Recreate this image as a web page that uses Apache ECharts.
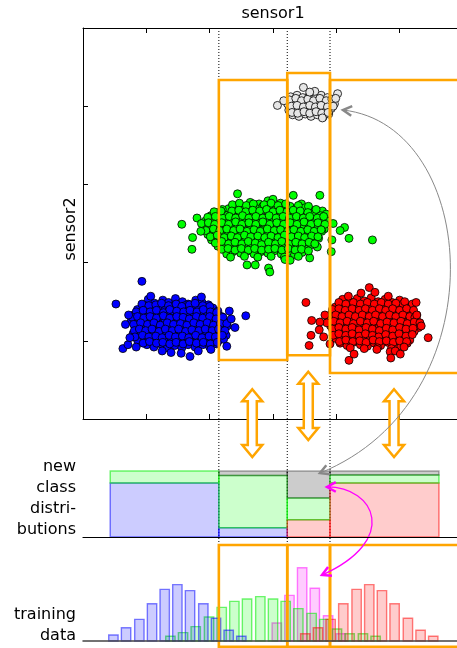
<!DOCTYPE html>
<html>
<head>
<meta charset="utf-8">
<script src="https://cdn.jsdelivr.net/npm/echarts@6/dist/echarts.min.js"></script>
<style>
  html, body { margin: 0; padding: 0; background: #fff; }
  #chart { width: 457px; height: 648px; }
</style>
</head>
<body>
<div id="chart"></div>
<script>
// ---- measurements: sensor1 (x) vs sensor2 (y) for each class ----
const classBlue = [
  [1.03,1.53],[1.13,1.48],[1.26,1.52],[1.35,1.49],[1.46,1.54],[1.57,1.50],[1.66,1.47],[1.78,1.52],[1.88,1.49],[1.98,1.46],
  [0.86,1.40],[0.98,1.45],[1.07,1.41],[1.20,1.43],[1.29,1.39],[1.40,1.44],[1.51,1.40],[1.61,1.45],[1.72,1.41],[1.83,1.43],[1.93,1.39],[2.05,1.42],[2.13,1.38],
  [0.80,1.33],[0.90,1.36],[1.02,1.32],[1.11,1.35],[1.24,1.31],[1.34,1.36],[1.43,1.33],[1.56,1.35],[1.64,1.31],[1.76,1.34],[1.86,1.37],[1.96,1.32],[2.09,1.34],[2.19,1.31],
  [0.76,1.25],[0.88,1.28],[0.97,1.24],[1.09,1.27],[1.18,1.23],[1.30,1.26],[1.39,1.29],[1.50,1.24],[1.61,1.27],[1.70,1.23],[1.82,1.28],[1.91,1.25],[2.03,1.22],[2.12,1.27],[2.24,1.24],
  [0.83,1.17],[0.93,1.20],[1.04,1.16],[1.15,1.19],[1.25,1.15],[1.36,1.20],[1.46,1.17],[1.57,1.14],[1.67,1.19],[1.78,1.16],[1.87,1.20],[1.99,1.15],[2.09,1.18],[2.20,1.15],[2.28,1.19],
  [0.79,1.09],[0.91,1.12],[1.00,1.07],[1.12,1.10],[1.21,1.13],[1.32,1.08],[1.42,1.11],[1.53,1.07],[1.63,1.12],[1.74,1.09],[1.85,1.06],[1.95,1.11],[2.06,1.08],[2.16,1.12],[2.26,1.07],
  [0.86,1.01],[0.97,1.04],[1.07,0.99],[1.18,1.03],[1.28,1.00],[1.39,1.04],[1.49,0.99],[1.60,1.02],[1.71,0.98],[1.81,1.03],[1.92,1.00],[2.02,1.04],[2.13,0.99],[2.22,1.02],
  [1.01,0.95],[1.12,0.92],[1.23,0.96],[1.33,0.91],[1.45,0.94],[1.56,0.91],[1.66,0.95],[1.77,0.92],[1.89,0.95],[2.00,0.92],[2.11,0.96],
  [0.93,1.47],[1.04,1.45],[1.15,1.46],[1.24,1.48],[1.35,1.45],[1.47,1.47],[1.56,1.44],[1.68,1.46],[1.77,1.48],[1.89,1.45],[2.00,1.44],
  [0.84,1.37],[0.95,1.39],[1.06,1.37],[1.16,1.39],[1.27,1.36],[1.37,1.40],[1.48,1.38],[1.59,1.37],[1.69,1.39],[1.80,1.37],[1.90,1.40],[2.01,1.37],[2.11,1.36],
  [0.78,1.30],[0.86,1.31],[0.96,1.29],[1.06,1.31],[1.16,1.29],[1.27,1.32],[1.37,1.29],[1.48,1.31],[1.58,1.30],[1.68,1.28],[1.79,1.31],[1.89,1.29],[2.00,1.31],[2.10,1.28],[2.21,1.30],
  [0.80,1.21],[0.91,1.23],[1.02,1.21],[1.12,1.23],[1.22,1.20],[1.33,1.23],[1.43,1.21],[1.54,1.22],[1.64,1.20],[1.75,1.23],[1.85,1.21],[1.96,1.23],[2.06,1.20],[2.17,1.22],[2.27,1.22],
  [0.81,1.13],[0.89,1.15],[0.99,1.13],[1.09,1.15],[1.20,1.12],[1.30,1.15],[1.41,1.13],[1.51,1.15],[1.62,1.12],[1.72,1.14],[1.83,1.13],[1.93,1.15],[2.04,1.13],[2.14,1.15],[2.24,1.13],
  [0.82,1.05],[0.94,1.07],[1.04,1.05],[1.15,1.06],[1.25,1.04],[1.36,1.07],[1.46,1.05],[1.57,1.06],[1.67,1.04],[1.78,1.07],[1.88,1.04],[1.99,1.06],[2.09,1.05],[2.20,1.07],
  [0.95,0.97],[1.05,0.99],[1.16,0.97],[1.26,0.98],[1.37,0.96],[1.47,0.98],[1.58,0.96],[1.68,0.99],[1.79,0.97],[1.90,0.98],[2.01,0.96],[2.12,0.98],
  [0.93,1.76],[0.52,1.47],[2.57,1.32],[2.40,1.17],[0.63,0.90],[0.71,0.95],[0.67,1.21],[0.74,1.04],[1.39,0.85],[1.55,0.84],
  [1.69,0.80],[1.82,0.87],[2.02,0.89],[2.27,0.93],[2.34,1.28],[1.07,1.57],[1.87,1.56],[0.84,0.92],[1.25,0.87],[2.31,1.38],[0.72,1.33]
];
const classGreen = [
  [2.44,2.88],[2.64,2.77],[2.78,2.75],[2.92,2.79],[3.00,2.81],[3.12,2.76],[3.32,2.86],[3.45,2.75],[3.74,2.86],
  [2.30,2.69],[2.41,2.72],[2.52,2.68],[2.62,2.71],[2.74,2.69],[2.84,2.72],[2.95,2.67],[3.05,2.71],[3.16,2.68],[3.27,2.72],[3.37,2.69],[3.50,2.70],[3.62,2.66],[3.78,2.66],
  [2.02,2.60],[2.15,2.64],[2.24,2.61],[2.36,2.63],[2.45,2.59],[2.57,2.64],[2.67,2.60],[2.78,2.62],[2.88,2.58],[2.99,2.63],[3.10,2.60],[3.20,2.64],[3.31,2.61],[3.42,2.63],[3.53,2.59],[3.64,2.63],[3.75,2.60],[3.84,2.62],
  [1.80,2.57],[1.93,2.53],[2.05,2.56],[2.14,2.52],[2.26,2.55],[2.37,2.51],[2.47,2.56],[2.58,2.53],[2.69,2.55],[2.80,2.51],[2.90,2.56],[3.01,2.53],[3.12,2.55],[3.22,2.51],[3.34,2.56],[3.44,2.52],[3.55,2.55],[3.66,2.52],[3.77,2.56],[3.86,2.53],
  [1.91,2.46],[2.01,2.43],[2.12,2.47],[2.22,2.44],[2.33,2.48],[2.43,2.45],[2.54,2.42],[2.65,2.47],[2.75,2.44],[2.86,2.48],[2.96,2.43],[3.07,2.46],[3.18,2.44],[3.28,2.48],[3.39,2.43],[3.49,2.46],[3.60,2.44],[3.70,2.48],[3.81,2.43],
  [1.97,2.36],[2.07,2.39],[2.18,2.35],[2.29,2.40],[2.39,2.36],[2.50,2.39],[2.60,2.35],[2.71,2.38],[2.82,2.41],[2.92,2.36],[3.03,2.39],[3.13,2.35],[3.24,2.40],[3.35,2.36],[3.45,2.39],[3.56,2.35],[3.66,2.38],[3.77,2.40],
  [2.03,2.29],[2.14,2.32],[2.25,2.28],[2.35,2.31],[2.46,2.27],[2.56,2.32],[2.67,2.29],[2.77,2.26],[2.88,2.31],[2.99,2.28],[3.09,2.32],[3.20,2.27],[3.30,2.30],[3.41,2.27],[3.52,2.31],[3.62,2.28],[3.72,2.31],
  [2.13,2.21],[2.24,2.24],[2.34,2.20],[2.45,2.23],[2.55,2.19],[2.66,2.24],[2.76,2.21],[2.87,2.18],[2.97,2.23],[3.08,2.20],[3.19,2.24],[3.29,2.19],[3.40,2.22],[3.50,2.18],[3.61,2.23],[3.70,2.20],
  [2.27,2.11],[2.37,2.14],[2.49,2.12],[2.60,2.15],[2.70,2.11],[2.81,2.14],[2.92,2.12],[3.02,2.15],[3.13,2.11],[3.24,2.14],[3.34,2.10],[3.46,2.13],[3.58,2.06],
  [2.36,2.74],[2.47,2.76],[2.58,2.73],[2.69,2.75],[2.86,2.74],[2.97,2.76],[3.08,2.73],[3.20,2.75],[3.40,2.73],[3.56,2.72],
  [2.07,2.65],[2.20,2.68],[2.35,2.66],[2.46,2.67],[2.57,2.65],[2.68,2.67],[2.79,2.66],[2.90,2.68],[3.00,2.65],[3.11,2.67],[3.22,2.65],[3.32,2.67],[3.43,2.66],[3.55,2.64],[3.68,2.68],
  [1.97,2.58],[2.09,2.59],[2.20,2.57],[2.31,2.59],[2.41,2.57],[2.52,2.60],[2.62,2.57],[2.73,2.59],[2.84,2.57],[2.94,2.60],[3.05,2.57],[3.16,2.59],[3.26,2.57],[3.37,2.59],[3.48,2.57],[3.58,2.59],[3.70,2.57],[3.80,2.59],
  [1.87,2.50],[1.98,2.51],[2.08,2.49],[2.19,2.51],[2.30,2.49],[2.41,2.52],[2.51,2.49],[2.62,2.51],[2.73,2.49],[2.84,2.52],[2.95,2.49],[3.06,2.51],[3.17,2.49],[3.27,2.51],[3.38,2.49],[3.49,2.52],[3.60,2.49],[3.71,2.51],[3.82,2.49],
  [1.94,2.41],[2.06,2.43],[2.16,2.41],[2.27,2.43],[2.38,2.41],[2.48,2.43],[2.59,2.40],[2.70,2.42],[2.80,2.40],[2.91,2.43],[3.02,2.41],[3.12,2.42],[3.23,2.40],[3.33,2.42],[3.44,2.40],[3.55,2.42],[3.65,2.40],[3.76,2.42],
  [2.01,2.33],[2.12,2.35],[2.23,2.32],[2.34,2.34],[2.44,2.32],[2.55,2.35],[2.65,2.33],[2.76,2.34],[2.87,2.32],[2.97,2.34],[3.08,2.32],[3.18,2.35],[3.29,2.33],[3.40,2.34],[3.50,2.32],[3.61,2.34],[3.71,2.33],
  [2.09,2.25],[2.19,2.27],[2.30,2.24],[2.40,2.26],[2.51,2.24],[2.61,2.27],[2.72,2.25],[2.82,2.23],[2.93,2.26],[3.04,2.24],[3.14,2.27],[3.25,2.24],[3.36,2.26],[3.46,2.24],[3.57,2.26],[3.66,2.24],
  [2.19,2.17],[2.29,2.18],[2.40,2.16],[2.50,2.18],[2.61,2.16],[2.71,2.18],[2.82,2.16],[2.93,2.17],[3.03,2.18],[3.14,2.16],[3.24,2.18],[3.35,2.16],[3.45,2.17],[3.56,2.15],
  [2.33,2.07],[2.55,2.08],[2.76,2.07],[2.97,2.08],[3.18,2.07],[3.40,2.08],
  [1.56,2.49],[1.73,2.32],[1.72,2.17],[1.86,2.40],[4.13,2.45],[4.06,2.41],[4.20,2.31],[4.57,2.29],[3.92,2.14],[3.93,2.29],
  [2.59,1.97],[2.72,1.97],[2.93,1.93],[2.95,1.88],[3.19,2.04],[3.27,2.03],[2.18,2.66],[3.95,2.50]
];
const classRed = [
  [4.10,1.53],[4.21,1.50],[4.33,1.54],[4.44,1.51],[4.55,1.55],[4.66,1.50],[4.77,1.53],[4.88,1.49],[5.00,1.52],
  [3.98,1.43],[4.09,1.46],[4.19,1.42],[4.30,1.45],[4.41,1.41],[4.52,1.46],[4.62,1.43],[4.73,1.46],[4.83,1.41],[4.95,1.44],[5.05,1.47],[5.16,1.43],
  [3.93,1.35],[4.04,1.38],[4.14,1.34],[4.25,1.37],[4.36,1.33],[4.46,1.38],[4.57,1.35],[4.68,1.32],[4.78,1.37],[4.89,1.34],[5.00,1.38],[5.10,1.33],[5.21,1.36],[5.27,1.33],
  [3.88,1.27],[3.99,1.30],[4.09,1.26],[4.20,1.29],[4.31,1.25],[4.41,1.30],[4.52,1.27],[4.62,1.24],[4.73,1.29],[4.84,1.26],[4.94,1.30],[5.05,1.25],[5.16,1.28],[5.27,1.26],
  [3.91,1.19],[4.02,1.22],[4.12,1.18],[4.23,1.21],[4.34,1.17],[4.44,1.22],[4.55,1.19],[4.66,1.16],[4.76,1.21],[4.87,1.18],[4.97,1.22],[5.08,1.17],[5.19,1.20],[5.30,1.17],
  [3.97,1.11],[4.07,1.14],[4.18,1.10],[4.28,1.13],[4.39,1.09],[4.50,1.14],[4.60,1.11],[4.71,1.08],[4.81,1.13],[4.92,1.10],[5.03,1.14],[5.13,1.09],[5.23,1.12],
  [3.99,1.03],[4.10,1.06],[4.21,1.02],[4.32,1.05],[4.42,1.01],[4.53,1.06],[4.63,1.03],[4.74,1.00],[4.85,1.05],[4.95,1.02],[5.06,1.06],[5.16,1.01],
  [4.06,0.97],[4.17,0.94],[4.27,0.98],[4.38,0.95],[4.49,0.93],[4.60,0.97],[4.70,0.94],[4.81,0.98],[4.92,0.95],[5.02,0.93],[5.12,0.97],
  [4.04,1.49],[4.15,1.47],[4.27,1.49],[4.38,1.47],[4.49,1.49],[4.60,1.47],[4.71,1.49],[4.82,1.47],[4.94,1.48],[5.08,1.50],[5.20,1.47],
  [3.94,1.40],[4.04,1.41],[4.14,1.39],[4.25,1.41],[4.36,1.39],[4.46,1.41],[4.57,1.39],[4.68,1.41],[4.78,1.39],[4.89,1.41],[5.00,1.39],[5.11,1.41],[5.22,1.39],
  [3.90,1.31],[3.99,1.33],[4.09,1.31],[4.20,1.33],[4.30,1.31],[4.41,1.33],[4.52,1.31],[4.62,1.33],[4.73,1.31],[4.84,1.33],[4.94,1.31],[5.05,1.33],[5.16,1.31],[5.24,1.30],
  [3.85,1.23],[3.96,1.25],[4.06,1.23],[4.17,1.25],[4.27,1.22],[4.38,1.25],[4.49,1.23],[4.59,1.25],[4.70,1.22],[4.80,1.24],[4.91,1.23],[5.02,1.25],[5.12,1.22],[5.23,1.24],[5.32,1.23],
  [3.94,1.15],[4.04,1.17],[4.15,1.15],[4.25,1.17],[4.36,1.14],[4.47,1.17],[4.57,1.15],[4.68,1.13],[4.79,1.16],[4.89,1.14],[5.00,1.17],[5.10,1.15],[5.21,1.16],
  [3.95,1.07],[4.04,1.09],[4.15,1.07],[4.25,1.09],[4.36,1.06],[4.46,1.09],[4.57,1.07],[4.67,1.05],[4.78,1.08],[4.89,1.06],[4.99,1.09],[5.10,1.06],[5.20,1.08],
  [4.05,0.99],[4.15,1.01],[4.26,0.99],[4.37,1.00],[4.47,0.98],[4.58,1.01],[4.68,0.99],[4.79,1.00],[4.90,0.98],[5.00,1.00],[5.11,0.99],
  [4.22,0.91],[4.44,0.90],[4.65,0.91],[4.87,0.90],[5.07,0.92],
  [3.52,1.49],[3.61,1.26],[3.60,1.07],[3.57,0.94],[3.74,1.24],[3.73,1.14],[3.90,0.96],[4.52,1.68],[4.39,1.61],[4.61,1.62],[4.19,1.57],[4.82,1.57],
  [5.26,1.49],[5.45,1.04],[5.34,1.19],[5.27,1.33],[4.20,0.75],[4.28,0.83],[4.85,0.86],[4.93,0.87],[5.01,0.83],[4.86,0.78],[4.64,0.89],[3.82,1.33],[3.80,1.05]
];
const classNew = [
  [3.28,4.12],[3.38,4.14],[3.47,4.11],[3.57,4.13],[3.67,4.10],[3.76,4.14],[3.86,4.11],
  [3.23,4.03],[3.33,4.06],[3.42,4.02],[3.52,4.05],[3.62,4.03],[3.71,4.06],[3.81,4.02],[3.90,4.05],[3.97,4.03],
  [3.25,3.95],[3.35,3.98],[3.44,3.94],[3.54,3.97],[3.63,3.95],[3.73,3.98],[3.83,3.94],[3.92,3.97],
  [3.31,3.89],[3.41,3.87],[3.51,3.90],[3.60,3.87],[3.70,3.89],[3.79,3.86],[3.88,3.90],
  [3.26,4.08],[3.36,4.10],[3.45,4.07],[3.55,4.09],[3.64,4.07],[3.74,4.10],[3.84,4.07],[3.93,4.09],
  [3.29,4.00],[3.38,4.01],[3.48,3.99],[3.58,4.01],[3.67,3.99],[3.76,4.01],[3.86,3.99],[3.95,4.00],
  [3.30,3.92],[3.39,3.91],[3.49,3.93],[3.58,3.91],[3.68,3.93],[3.77,3.91],[3.87,3.92],
  [3.07,4.01],[3.48,4.24],[4.02,4.16],[3.78,3.85],[3.66,4.19],[3.58,4.18],[3.17,4.07],[3.99,4.10]
];

// ---- sensor1 intervals and the class shares inside each ----
const intervalEdges = [0.43, 2.145, 3.225, 3.90, 5.62];
const shareBlue  = [0.82, 0.14, 0.00, 0.00];
const shareRed   = [0.00, 0.00, 0.26, 0.82];
const shareGreen = [0.18, 0.79, 0.33, 0.12];
const shareNew   = [0.00, 0.07, 0.41, 0.06];

// ---- regions drawn over the sensor plane ----
const regionEdges  = [2.145, 3.225, 3.90, 6.3];
const regionTop    = [4.335, 4.425, 4.335];
const regionBottom = [0.754, 0.815, 0.588];

// ---- training data histograms over sensor1 ----
const histBlueX  = [0.48,0.68,0.89,1.09,1.29,1.49,1.69,1.90,2.10,2.30,2.50];
const histBlueN  = [5,11,18,31,43,47,42,31,19,9,4];
const histGreenX = [1.38,1.58,1.78,1.99,2.19,2.39,2.59,2.80,3.00,3.20,3.40,3.61,3.81,4.01,4.21,4.42,4.62];
const histGreenN = [4,7,12,20,28,33,35,37,35,33,27,23,18,10,6,6,4];
const histNewX   = [3.06,3.26,3.46,3.66,3.87,4.07];
const histNewN   = [15,38,61,44,21,6];
const histRedX   = [3.51,3.71,3.91,4.11,4.32,4.52,4.72,4.92,5.13,5.33,5.53];
const histRedN   = [6,11,18,31,43,47,42,31,19,9,4];
const trainBoxTop = 80, trainBoxBottom = -4.75;

// ---- annotation arrows ----
const transferX      = [2.673, 3.557, 4.911];
const transferTop    = [0.38, 0.605, 0.38];
const transferBottom = [-0.486, -0.27, -0.486];
// cubic paths: start, control 1, control 2, end
const newClassLink  = [4.105, 3.951, 6.269, 3.760, 6.585, 0.243, 3.742, -0.691];
const newSampleLink = [3.853, 0.758, 4.611, 0.758, 5.006, -0.045, 3.774, -0.576];

// ---------------------------------------------------------------
const ORANGE = '#ffa500';
const FONT = '"DejaVu Sans", sans-serif';
const BAR_HALF = 0.074;
const palette = {
  blue:    { fill: 'rgba(0,0,255,0.2)',   stroke: 'rgba(0,0,255,0.5)' },
  red:     { fill: 'rgba(255,0,0,0.2)',   stroke: 'rgba(255,0,0,0.5)' },
  green:   { fill: 'rgba(0,255,0,0.2)',   stroke: 'rgba(0,235,0,0.55)' },
  newc:    { fill: 'rgba(0,0,0,0.2)',     stroke: 'rgba(0,0,0,0.32)' },
  magenta: { fill: 'rgba(255,0,255,0.2)', stroke: 'rgba(255,0,255,0.5)' }
};
const stackOrder = ['blue', 'red', 'green', 'newc'];

const shareRects = [];
for (let i = 0; i < intervalEdges.length - 1; i++) {
  const shares = { blue: shareBlue[i], red: shareRed[i], green: shareGreen[i], newc: shareNew[i] };
  let base = 0;
  stackOrder.forEach((cls, k) => {
    const v = shares[cls];
    if (v > 0) {
      shareRects.push([intervalEdges[i], intervalEdges[i + 1], base, base + v, k]);
      base += v;
    }
  });
}

const regionBoxes = regionTop.map((t, i) => [regionEdges[i], regionEdges[i + 1], regionBottom[i], t]);
const trainBoxes = regionTop.map((t, i) => [regionEdges[i], regionEdges[i + 1], trainBoxBottom, trainBoxTop]);
const transfers = transferX.map((x, i) => [x, transferTop[i], transferBottom[i]]);

function pairs(xs, ns) { return xs.map((x, i) => [x, ns[i]]); }

function histRender(style) {
  return function (params, api) {
    const x = api.value(0), n = api.value(1);
    const a = api.coord([x - BAR_HALF, n]);
    const b = api.coord([x + BAR_HALF, 0]);
    return { type: 'rect', shape: { x: a[0], y: a[1], width: b[0] - a[0], height: b[1] - a[1] },
      style: { fill: style.fill, stroke: style.stroke, lineWidth: 1.4 } };
  };
}

function boxRender(params, api) {
  const a = api.coord([api.value(0), api.value(3)]);
  const b = api.coord([api.value(1), api.value(2)]);
  return { type: 'rect', shape: { x: a[0], y: a[1], width: b[0] - a[0], height: b[1] - a[1] },
    style: { fill: 'none', stroke: ORANGE, lineWidth: 2.6 } };
}

function shareRender(params, api) {
  const a = api.coord([api.value(0), api.value(3)]);
  const b = api.coord([api.value(1), api.value(2)]);
  const st = palette[stackOrder[api.value(4)]];
  return { type: 'rect', shape: { x: a[0], y: a[1], width: b[0] - a[0], height: b[1] - a[1] },
    style: { fill: st.fill, stroke: st.stroke, lineWidth: 1.5 } };
}

function dottedRender(params, api) {
  const x = api.value(0);
  const a = api.coord([x, 5]);
  const b = api.coord([x, -2.95]);
  return { type: 'line', shape: { x1: a[0], y1: a[1], x2: b[0], y2: b[1] },
    style: { stroke: '#000', lineWidth: 1, lineDash: [1, 2] } };
}

function transferRender(params, api) {
  const x = api.value(0);
  const t = api.coord([x, api.value(1)]);
  const b = api.coord([x, api.value(2)]);
  const cx = t[0], ty = t[1], by = b[1];
  const hw = 10, sw = 4.5, hl = 12;
  const pts = [[cx, ty], [cx + hw, ty + hl], [cx + sw, ty + hl], [cx + sw, by - hl], [cx + hw, by - hl],
    [cx, by], [cx - hw, by - hl], [cx - sw, by - hl], [cx - sw, ty + hl], [cx - hw, ty + hl]];
  return { type: 'polygon', shape: { points: pts },
    style: { fill: '#fff', stroke: ORANGE, lineWidth: 2.5, lineJoin: 'miter' } };
}

function chevron(tip, from, len) {
  const dx = tip[0] - from[0], dy = tip[1] - from[1];
  const d = Math.hypot(dx, dy);
  const bx = -dx / d, by = -dy / d;
  const a = 0.5, c = Math.cos(a), s = Math.sin(a);
  return [
    [tip[0] + len * (bx * c - by * s), tip[1] + len * (bx * s + by * c)],
    tip,
    [tip[0] + len * (bx * c + by * s), tip[1] + len * (-bx * s + by * c)]
  ];
}

function linkRender(color, width, headWidth) {
  return function (params, api) {
    const p = [0, 2, 4, 6].map(i => api.coord([api.value(i), api.value(i + 1)]));
    return { type: 'group', children: [
      { type: 'bezierCurve',
        shape: { x1: p[0][0], y1: p[0][1], cpx1: p[1][0], cpy1: p[1][1], cpx2: p[2][0], cpy2: p[2][1], x2: p[3][0], y2: p[3][1] },
        style: { fill: 'none', stroke: color, lineWidth: width } },
      { type: 'polyline', shape: { points: chevron(p[0], p[1], 10) },
        style: { fill: 'none', stroke: color, lineWidth: headWidth } },
      { type: 'polyline', shape: { points: chevron(p[3], p[2], 10) },
        style: { fill: 'none', stroke: color, lineWidth: headWidth } }
    ] };
  };
}

const plainX = {
  type: 'value', min: 0, max: 6, interval: 1,
  axisLabel: { show: false }, splitLine: { show: false }
};

const option = {
  animation: false,
  backgroundColor: '#fff',
  grid: [
    { left: 83, right: -6, top: 28, height: 391, outerBoundsMode: 'none', containLabel: false },
    { left: 83, right: -6, top: 471, height: 66, outerBoundsMode: 'none', containLabel: false },
    { left: 83, right: -6, top: 545, height: 96, outerBoundsMode: 'none', containLabel: false }
  ],
  xAxis: [
    Object.assign({}, plainX, {
      gridIndex: 0, position: 'top', name: 'sensor1', nameLocation: 'middle', nameGap: 6,
      nameTextStyle: { fontSize: 16, color: '#000', fontFamily: FONT },
      axisLine: { show: true, onZero: false, lineStyle: { color: '#000', width: 1 } },
      axisTick: { show: true, inside: true, length: 5, lineStyle: { color: '#000', width: 1 } }
    }),
    Object.assign({}, plainX, {
      gridIndex: 0, position: 'bottom',
      axisLine: { show: true, onZero: false, lineStyle: { color: '#000', width: 1 } },
      axisTick: { show: true, inside: true, length: 5, lineStyle: { color: '#000', width: 1 } }
    }),
    Object.assign({}, plainX, {
      gridIndex: 1, z: 10,
      axisLine: { show: true, onZero: true, lineStyle: { color: '#000', width: 1.2 } },
      axisTick: { show: false }
    }),
    Object.assign({}, plainX, {
      gridIndex: 2, z: 10,
      axisLine: { show: true, onZero: true, lineStyle: { color: '#444', width: 1.5 } },
      axisTick: { show: false }
    })
  ],
  yAxis: [
    {
      gridIndex: 0, type: 'value', min: 0, max: 5, interval: 1,
      name: 'sensor2', nameLocation: 'middle', nameGap: 4,
      nameTextStyle: { fontSize: 16, color: '#000', fontFamily: FONT, padding: [0, 11, 0, 0] },
      axisLine: { show: true, onZero: false, lineStyle: { color: '#000', width: 1 } },
      axisTick: { show: true, inside: true, length: 5, lineStyle: { color: '#000', width: 1 } },
      axisLabel: { show: false }, splitLine: { show: false }
    },
    { gridIndex: 1, type: 'value', min: 0, max: 1, show: false },
    { gridIndex: 2, type: 'value', min: 0, max: 80, show: false }
  ],
  graphic: [
    { type: 'text', z: 20, style: { text: 'new\nclass\ndistri-\nbutions', x: 76, y: 498.5,
      align: 'right', verticalAlign: 'middle', lineHeight: 21, font: '16px ' + FONT, fill: '#000' } },
    { type: 'text', z: 20, style: { text: 'training\ndata', x: 76, y: 625.5,
      align: 'right', verticalAlign: 'middle', lineHeight: 21, font: '16px ' + FONT, fill: '#000' } }
  ],
  series: [
    { type: 'custom', name: 'splits', xAxisIndex: 0, yAxisIndex: 0, z: 1, clip: false, silent: true,
      renderItem: dottedRender, data: regionEdges.slice(0, 3).map(v => [v, 0]) },

    { type: 'custom', name: 'shares', xAxisIndex: 2, yAxisIndex: 1, z: 2, clip: false, silent: true,
      renderItem: shareRender, data: shareRects },

    { type: 'custom', name: 'hist new', xAxisIndex: 3, yAxisIndex: 2, z: 2, clip: false, silent: true,
      renderItem: histRender(palette.magenta), data: pairs(histNewX, histNewN) },
    { type: 'custom', name: 'hist green', xAxisIndex: 3, yAxisIndex: 2, z: 2, clip: false, silent: true,
      renderItem: histRender(palette.green), data: pairs(histGreenX, histGreenN) },
    { type: 'custom', name: 'hist blue', xAxisIndex: 3, yAxisIndex: 2, z: 2, clip: false, silent: true,
      renderItem: histRender(palette.blue), data: pairs(histBlueX, histBlueN) },
    { type: 'custom', name: 'hist red', xAxisIndex: 3, yAxisIndex: 2, z: 2, clip: false, silent: true,
      renderItem: histRender(palette.red), data: pairs(histRedX, histRedN) },

    { type: 'scatter', name: 'blue', xAxisIndex: 0, yAxisIndex: 0, z: 3, symbolSize: 8, silent: true,
      itemStyle: { color: '#0000ff', borderColor: '#000', borderWidth: 0.8, opacity: 1 }, data: classBlue },
    { type: 'scatter', name: 'green', xAxisIndex: 0, yAxisIndex: 0, z: 3, symbolSize: 8, silent: true,
      itemStyle: { color: '#00ff00', borderColor: '#000', borderWidth: 0.8, opacity: 1 }, data: classGreen },
    { type: 'scatter', name: 'red', xAxisIndex: 0, yAxisIndex: 0, z: 3, symbolSize: 8, silent: true,
      itemStyle: { color: '#ff0000', borderColor: '#000', borderWidth: 0.8, opacity: 1 }, data: classRed },
    { type: 'scatter', name: 'new', xAxisIndex: 0, yAxisIndex: 0, z: 3, symbolSize: 8, silent: true,
      itemStyle: { color: '#e6e6e6', borderColor: '#000', borderWidth: 0.8, opacity: 1 }, data: classNew },

    { type: 'custom', name: 'regions', xAxisIndex: 0, yAxisIndex: 0, z: 4, clip: false, silent: true,
      renderItem: boxRender, data: regionBoxes },
    { type: 'custom', name: 'train regions', xAxisIndex: 3, yAxisIndex: 2, z: 4, clip: false, silent: true,
      renderItem: boxRender, data: trainBoxes },
    { type: 'custom', name: 'transfer', xAxisIndex: 0, yAxisIndex: 0, z: 5, clip: false, silent: true,
      renderItem: transferRender, data: transfers },
    { type: 'custom', name: 'new class link', xAxisIndex: 0, yAxisIndex: 0, z: 6, clip: false, silent: true,
      renderItem: linkRender('#888888', 1, 2.5), data: [newClassLink] },
    { type: 'custom', name: 'new sample link', xAxisIndex: 2, yAxisIndex: 1, z: 6, clip: false, silent: true,
      renderItem: linkRender('#ff00ff', 1.3, 2.5), data: [newSampleLink] }
  ]
};

const chart = echarts.init(document.getElementById('chart'), null, { renderer: 'canvas' });
chart.setOption(option);
</script>
</body>
</html>
